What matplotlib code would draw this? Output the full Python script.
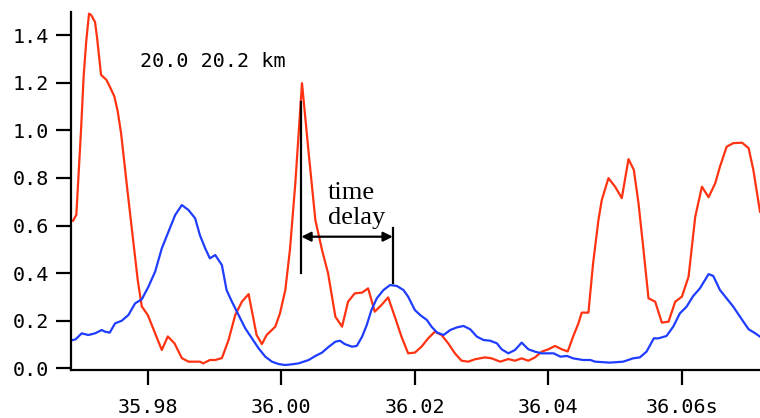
import matplotlib
matplotlib.use("Agg")
import matplotlib.pyplot as plt

# ---- data (time in seconds, amplitude) ----
red_t = [35.9688, 35.9693, 35.9700, 35.9704, 35.9708, 35.9712, 35.9715, 35.9721, 35.9724,
         35.9730, 35.9738, 35.9743, 35.9750, 35.9755, 35.9760, 35.9765, 35.9770, 35.9778,
         35.9785, 35.9791, 35.9800, 35.9810, 35.9821, 35.9830, 35.9840, 35.9851, 35.9861,
         35.9878, 35.9883, 35.9893, 35.9901, 35.9911, 35.9921, 35.9931, 35.9941, 35.9951,
         35.9963, 35.9971, 35.9978, 35.9991, 35.9998, 36.0006, 36.0013, 36.0021, 36.0031,
         36.0041, 36.0051, 36.0061, 36.0070, 36.0081, 36.0091, 36.0100, 36.0110, 36.0121,
         36.0130, 36.0140, 36.0150, 36.0160, 36.0170, 36.0180, 36.0190, 36.0200, 36.0210,
         36.0220, 36.0230, 36.0240, 36.0250, 36.0260, 36.0270, 36.0280, 36.0290, 36.0305,
         36.0315, 36.0328, 36.0340, 36.0350, 36.0360, 36.0370, 36.0380, 36.0390, 36.0400,
         36.0410, 36.0420, 36.0429, 36.0437, 36.0445, 36.0450, 36.0460, 36.0467, 36.0475,
         36.0480, 36.0490, 36.0500, 36.0510, 36.0520, 36.0528, 36.0535, 36.0542, 36.0550,
         36.0560, 36.0570, 36.0580, 36.0590, 36.0600, 36.0610, 36.0615, 36.0620, 36.0630,
         36.0640, 36.0650, 36.0657, 36.0667, 36.0677, 36.0690, 36.0700, 36.0707, 36.0717]
red_v = [0.62, 0.645, 1.00, 1.23, 1.38, 1.49, 1.485, 1.455, 1.39,
         1.233, 1.212, 1.184, 1.142, 1.079, 0.988, 0.862, 0.736, 0.54,
         0.37, 0.26, 0.224, 0.154, 0.077, 0.134, 0.105, 0.043, 0.028,
         0.028, 0.021, 0.035, 0.035, 0.043, 0.119, 0.224, 0.28, 0.312,
         0.14, 0.102, 0.14, 0.175, 0.231, 0.329, 0.50, 0.778, 1.198,
         0.904, 0.623, 0.497, 0.40, 0.217, 0.175, 0.28, 0.315, 0.318,
         0.336, 0.238, 0.266, 0.298, 0.217, 0.133, 0.063, 0.066, 0.091,
         0.126, 0.154, 0.14, 0.105, 0.063, 0.032, 0.028, 0.038, 0.046,
         0.042, 0.028, 0.039, 0.032, 0.042, 0.032, 0.046, 0.07, 0.08,
         0.094, 0.08, 0.071, 0.133, 0.189, 0.234, 0.234, 0.441, 0.623,
         0.707, 0.799, 0.763, 0.715, 0.879, 0.834, 0.694, 0.511, 0.294,
         0.28, 0.192, 0.196, 0.28, 0.301, 0.385, 0.511, 0.637, 0.763,
         0.719, 0.778, 0.847, 0.931, 0.946, 0.948, 0.925, 0.834, 0.658]

blue_t = [35.9688, 35.9692, 35.9701, 35.9711, 35.9721, 35.9731, 35.9736, 35.9743, 35.9751,
          35.9761, 35.9771, 35.9781, 35.9791, 35.9801, 35.9811, 35.9821, 35.9831, 35.9841,
          35.9851, 35.9861, 35.9871, 35.9878, 35.9886, 35.9893, 35.9901, 35.9911, 35.9918,
          35.9926, 35.9936, 35.9946, 35.9956, 35.9966, 35.9976, 35.9986, 35.9996, 36.0006,
          36.0016, 36.0026, 36.0041, 36.0051, 36.0061, 36.0070, 36.0081, 36.0088, 36.0095,
          36.0106, 36.0113, 36.0121, 36.0128, 36.0135, 36.0143, 36.0153, 36.0163, 36.0173,
          36.0183, 36.0190, 36.0200, 36.0208, 36.0218, 36.0225, 36.0233, 36.0243, 36.0253,
          36.0263, 36.0273, 36.0283, 36.0293, 36.0303, 36.0313, 36.0323, 36.0330, 36.0340,
          36.0350, 36.0360, 36.0370, 36.0380, 36.0390, 36.0408, 36.0418, 36.0428, 36.0437,
          36.0452, 36.0463, 36.0470, 36.0492, 36.0512, 36.0527, 36.0537, 36.0547, 36.0558,
          36.0565, 36.0577, 36.0587, 36.0597, 36.0607, 36.0617, 36.0627, 36.0640, 36.0647,
          36.0657, 36.0667, 36.0677, 36.0687, 36.0700, 36.0710, 36.0717]
blue_v = [0.119, 0.122, 0.147, 0.14, 0.147, 0.161, 0.154, 0.15, 0.189,
          0.2, 0.224, 0.273, 0.29, 0.343, 0.406, 0.504, 0.574, 0.644,
          0.686, 0.665, 0.63, 0.56, 0.504, 0.462, 0.476, 0.434, 0.329,
          0.28, 0.224, 0.168, 0.126, 0.084, 0.049, 0.028, 0.018, 0.014,
          0.017, 0.021, 0.035, 0.052, 0.066, 0.088, 0.112, 0.116, 0.102,
          0.091, 0.094, 0.133, 0.182, 0.245, 0.294, 0.329, 0.35, 0.346,
          0.329, 0.301, 0.245, 0.224, 0.203, 0.175, 0.151, 0.14, 0.161,
          0.172, 0.178, 0.164, 0.133, 0.119, 0.116, 0.105, 0.08, 0.063,
          0.077, 0.108, 0.08, 0.07, 0.063, 0.063, 0.049, 0.052, 0.042,
          0.035, 0.035, 0.028, 0.024, 0.028, 0.042, 0.046, 0.07, 0.126,
          0.126, 0.136, 0.175, 0.231, 0.259, 0.304, 0.336, 0.396, 0.388,
          0.329, 0.294, 0.259, 0.217, 0.164, 0.147, 0.133]

x_ticks = [35.98, 36.00, 36.02, 36.04, 36.06]
x_tick_labels = ["35.98", "36.00", "36.02", "36.04", "36.06s"]
y_ticks = [0.0, 0.2, 0.4, 0.6, 0.8, 1.0, 1.2, 1.4]
y_tick_labels = ["0.0", "0.2", "0.4", "0.6", "0.8", "1.0", "1.2", "1.4"]

label_text = "20.0 20.2 km"
delay_start, delay_end = 36.0030, 36.0167

# ---- figure ----
fig = plt.figure(figsize=(7.6, 4.18), dpi=100)
ax = fig.add_axes([71 / 760, 1 - 370 / 418, 1 - 71 / 760, (370 - 12) / 418])

ax.plot(red_t, red_v, color="#ff3311", lw=1.6, solid_joinstyle="round")
ax.plot(blue_t, blue_v, color="#1f3dff", lw=1.6, solid_joinstyle="round")

ax.set_xlim(35.9685, 36.0717)
ax.set_ylim(-0.007, 1.497)

for s in ("top", "right"):
    ax.spines[s].set_visible(False)
for s in ("left", "bottom"):
    ax.spines[s].set_linewidth(1.6)

mono = "DejaVu Sans Mono"
ax.set_xticks(x_ticks)
ax.set_xticklabels(x_tick_labels, fontfamily=mono, fontsize=14.5)
ax.set_yticks(y_ticks)
ax.set_yticklabels(y_tick_labels, fontfamily=mono, fontsize=14.5)
ax.tick_params(axis="x", direction="out", length=11, width=1.6, pad=9)
ax.tick_params(axis="y", direction="out", length=11, width=1.6, pad=5)

ax.text(35.9789, 1.265, label_text, fontfamily=mono, fontsize=14.5,
        ha="left", va="baseline")

# time delay annotation
ax.plot([delay_start, delay_start], [0.40, 1.12], color="black", lw=1.6)
ax.plot([delay_end, delay_end], [0.357, 0.588], color="black", lw=1.6)
ax.annotate("", xy=(delay_start, 0.553), xytext=(delay_end, 0.553),
            arrowprops=dict(arrowstyle="<|-|>", color="black", lw=1.6,
                            mutation_scale=14, shrinkA=0, shrinkB=0))
ax.text(36.0070, 0.710, "time", fontfamily="Liberation Serif", fontsize=19,
        ha="left", va="baseline")
ax.text(36.0070, 0.607, "delay", fontfamily="Liberation Serif", fontsize=19,
        ha="left", va="baseline")

fig.savefig("out.png", dpi=100)
